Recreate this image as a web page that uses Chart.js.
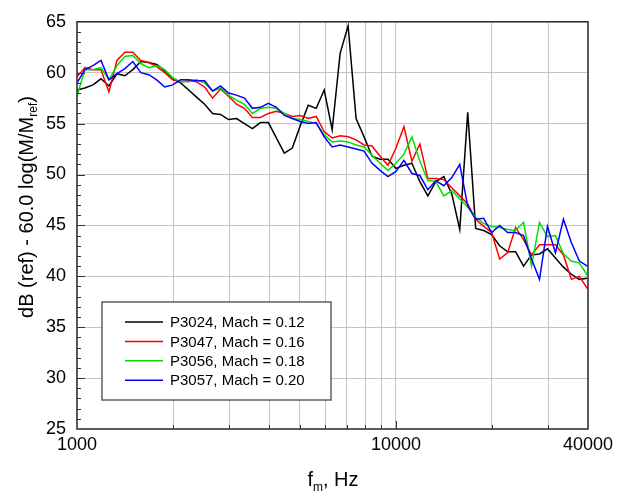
<!DOCTYPE html>
<html><head><meta charset="utf-8">
<script src="https://cdn.jsdelivr.net/npm/chart.js@4.4.0/dist/chart.umd.min.js"></script>
<style>html,body{margin:0;padding:0;background:#fff;}#wrap{width:632px;height:496px;position:relative;}</style>
</head><body><div id="wrap"><canvas id="c" width="632" height="496"></canvas></div>
<script>
// 1/12-octave (1/40-decade) band frequencies, Hz
const freqs = [1000,1059,1122,1189,1259,1334,1413,1496,1585,1679,1778,1884,1995,2113,2239,2371,2512,2661,2818,2985,3162,3350,3548,3758,3981,4217,4467,4732,5012,5309,5623,5957,6310,6683,7079,7499,7943,8414,8913,9441,10000,10593,11220,11885,12589,13335,14125,14962,15849,16788,17783,18836,19953,21135,22387,23714,25119,26607,28184,29854,31623,33497,35481,37584,39811];

const p3024 = [58.3,58.5,58.8,59.4,58.7,59.9,59.7,60.3,61.1,61.0,60.8,60.2,59.4,59.0,58.3,57.6,56.9,56.0,55.9,55.4,55.5,55.0,54.5,55.1,55.1,53.6,52.1,52.6,54.8,56.8,56.5,58.3,54.4,61.9,64.6,55.5,53.7,51.8,51.5,51.5,50.6,50.9,51.1,49.3,47.9,49.3,49.8,48.1,44.6,56.1,44.7,44.5,44.1,43.0,42.4,42.4,41.0,42.1,42.2,42.7,41.8,40.9,40.2,39.7,39.8];
const p3047 = [59.6,60.5,60.3,60.3,58.1,61.2,62.0,62.0,61.2,61.0,60.6,60.0,59.3,59.1,59.2,59.1,58.6,57.5,58.4,57.7,56.9,56.5,55.6,55.6,56.0,56.2,56.0,55.7,55.8,55.5,55.7,54.2,53.6,53.8,53.7,53.4,52.9,52.8,51.8,50.9,52.6,54.7,51.3,53.0,49.6,49.6,49.5,48.7,47.9,47.1,45.6,44.9,44.3,41.7,42.3,44.8,43.6,42.1,43.1,43.1,43.1,42.1,39.7,40.0,38.8];
const p3056 = [57.7,60.3,60.3,60.5,59.3,60.7,61.6,61.7,60.9,60.5,60.7,60.3,59.5,59.1,59.1,59.3,59.0,58.2,58.5,57.8,57.3,56.9,56.0,56.5,56.6,56.5,56.0,55.5,55.4,55.2,55.0,53.9,53.2,53.3,53.2,52.9,52.7,51.9,51.1,50.4,51.1,52.0,53.7,51.3,49.4,49.3,47.9,48.4,47.6,46.8,45.8,45.2,44.9,44.8,44.6,44.5,45.3,41.0,45.3,43.9,44.0,42.2,41.5,41.3,40.1];
const p3057 = [59.0,60.3,60.7,61.2,59.3,59.9,60.4,61.1,60.0,59.8,59.3,58.6,58.8,59.3,59.3,59.2,59.2,58.2,58.7,58.0,57.8,57.5,56.5,56.6,57.0,56.6,55.8,55.5,55.2,55.0,55.1,53.7,52.7,52.9,52.7,52.5,52.3,51.1,50.4,49.8,50.3,51.4,50.1,49.9,48.5,49.4,48.9,49.7,51.0,46.9,45.6,45.7,44.3,45.0,44.3,44.3,44.0,41.7,39.7,44.9,42.3,45.6,43.3,41.5,41.0];

const seriesLabels = ["P3024, Mach = 0.12","P3047, Mach = 0.16","P3056, Mach = 0.18","P3057, Mach = 0.20"];
const seriesValues = [p3024,p3047,p3056,p3057];
const seriesColors = ["#000000","#ff0000","#00e000","#0000ff"];

const yTicks = [25,30,35,40,45,50,55,60,65];
const xGridTicks = [1000,2000,3000,4000,5000,6000,7000,8000,9000,10000,20000,30000,40000];
const xLabelTicks = [1000,10000,40000];
const xTitle = ["f","m",", Hz"];
const yTitle = ["dB (ref) - 60.0 log(M/M","ref",")"];

const FONT = "'Liberation Sans', Arial, sans-serif";

const decor = {
  id:'decor',
  afterDraw(chart){
    const ctx = chart.ctx, a = chart.chartArea;
    const xs = chart.scales.x, ys = chart.scales.y;
    ctx.save();
    // inner ticks
    ctx.strokeStyle = '#333'; ctx.lineWidth = 1;
    ctx.beginPath();
    for(let v=26; v<65; v++){
      const y = Math.round(ys.getPixelForValue(v))+0.5;
      const len = (v%5===0)?8:4;
      ctx.moveTo(a.left, y); ctx.lineTo(a.left+len, y);
    }
    xGridTicks.forEach(v=>{
      if(v===1000||v===40000) return;
      const x = Math.round(xs.getPixelForValue(v))+0.5;
      const len = (v===10000)?8:4;
      ctx.moveTo(x, a.bottom); ctx.lineTo(x, a.bottom-len);
    });
    ctx.stroke();
    // frame
    ctx.strokeStyle = '#333'; ctx.lineWidth = 1.6;
    ctx.strokeRect(a.left, a.top, a.right-a.left, a.bottom-a.top);

    // legend
    const lx=102, ly=302, lw=229, lh=98;
    ctx.fillStyle='#fff'; ctx.fillRect(lx,ly,lw,lh);
    ctx.strokeStyle='#555'; ctx.lineWidth=1.4; ctx.strokeRect(lx,ly,lw,lh);
    ctx.font = '15px '+FONT; ctx.textBaseline='middle'; ctx.textAlign='left';
    seriesLabels.forEach((lab,i)=>{
      const yy = 322 + i*19.4;
      ctx.strokeStyle = seriesColors[i]; ctx.lineWidth=1.5;
      ctx.beginPath(); ctx.moveTo(125,yy); ctx.lineTo(163,yy); ctx.stroke();
      ctx.fillStyle='#000'; ctx.fillText(lab,170,yy+1);
    });

    // x title
    ctx.fillStyle='#000'; ctx.textBaseline='alphabetic';
    const big='20px '+FONT, small='12px '+FONT;
    ctx.font=big; const w1=ctx.measureText(xTitle[0]).width, w3=ctx.measureText(xTitle[2]).width;
    ctx.font=small; const w2=ctx.measureText(xTitle[1]).width;
    let x0 = 333 - (w1+w2+w3)/2, by = 486;
    ctx.font=big; ctx.fillText(xTitle[0],x0,by);
    ctx.font=small; ctx.fillText(xTitle[1],x0+w1,by+5);
    ctx.font=big; ctx.fillText(xTitle[2],x0+w1+w2,by);

    // y title
    ctx.translate(25,207); ctx.rotate(-Math.PI/2);
    ctx.font=big; const v1=ctx.measureText(yTitle[0]).width, v3=ctx.measureText(yTitle[2]).width;
    ctx.font=small; const v2=ctx.measureText(yTitle[1]).width;
    let s0 = -(v1+v2+v3)/2, bl = 8;
    ctx.font=big; ctx.fillText(yTitle[0],s0,bl);
    ctx.font=small; ctx.fillText(yTitle[1],s0+v1,bl+4);
    ctx.font=big; ctx.fillText(yTitle[2],s0+v1+v2,bl);
    ctx.restore();
  }
};

const datasets = seriesValues.map((vals,i)=>({
  label: seriesLabels[i],
  data: freqs.map((f,j)=>({x:f,y:vals[j]})),
  borderColor: seriesColors[i],
  backgroundColor: seriesColors[i],
  borderWidth: 1.5,
  pointRadius: 0,
  tension: 0,
  fill: false,
  order: 4-i
}));

new Chart(document.getElementById('c'), {
  type:'line',
  data:{datasets},
  options:{
    responsive:false, animation:false, devicePixelRatio:1,
    layout:{padding:{top:15,right:44,bottom:0,left:0}},
    plugins:{legend:{display:false}, tooltip:{enabled:false}},
    scales:{
      x:{
        type:'logarithmic', min:1000, max:40000,
        afterBuildTicks:(s)=>{ s.ticks = xGridTicks.map(v=>({value:v})); },
        afterFit:(s)=>{ s.height = 67; },
        ticks:{autoSkip:false, maxRotation:0, minRotation:0, padding:5, color:'#000',
          font:{family:FONT, size:18},
          callback:(v)=> xLabelTicks.includes(v) ? String(v) : ''},
        grid:{drawTicks:false, lineWidth:1,
          color:(c)=> (c.tick && (c.tick.value===1000||c.tick.value===40000)) ? 'rgba(0,0,0,0)' : '#c4c4c4'},
        border:{display:false}
      },
      y:{
        min:25, max:65,
        afterBuildTicks:(s)=>{ s.ticks = yTicks.map(v=>({value:v})); },
        afterFit:(s)=>{ s.width = 77; },
        ticks:{padding:11, color:'#000', font:{family:FONT, size:18}},
        grid:{drawTicks:false, lineWidth:1,
          color:(c)=> (c.tick && (c.tick.value===25||c.tick.value===65)) ? 'rgba(0,0,0,0)' : '#c4c4c4'},
        border:{display:false}
      }
    }
  },
  plugins:[decor]
});
</script>
</body></html>
